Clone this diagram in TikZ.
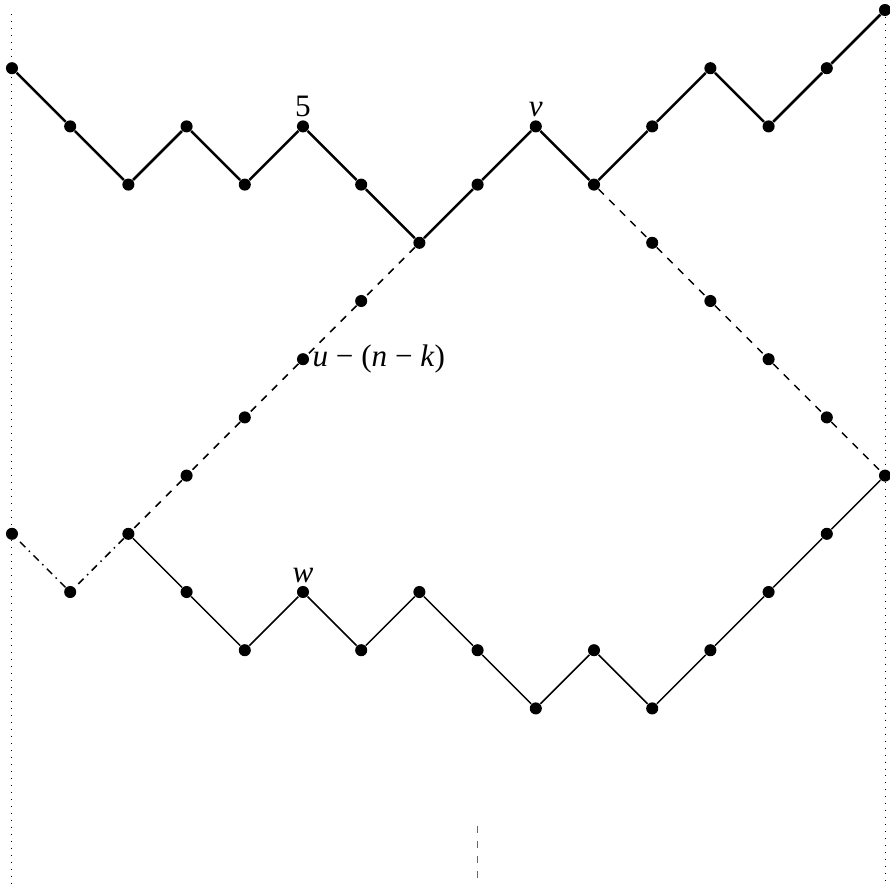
\documentclass[tikz,border=0pt]{standalone}
\usepackage{fontspec}
\setmainfont{Liberation Serif}
\usetikzlibrary{positioning}

\begin{document}
\begin{tikzpicture}[x=0.82cm, y=0.82cm,
  pt/.style={circle, fill=black, inner sep=0pt, minimum size=0.17cm},
  toppath/.style={line width=1pt},
  botpath/.style={line width=0.6pt},
  crossing/.style={semithick, dashed},
  guide/.style={line width=0.4pt, dash pattern=on 0.4pt off 2.4pt},
  lbl/.style={inner sep=1pt, font=\fontsize{12.5}{14}\selectfont},
]
  \useasboundingbox (-0.206,0.172) rectangle (15.086,-15.05);

  % upper walk
  \foreach \j [count=\i from 0] in {1,2,3,2,3,2,3,4,3,2,3,2,1,2,1,0}
    \node[pt] (t\i) at (\i,-\j) {};
  \foreach \i [remember=\i as \k (initially 0)] in {1,...,15}
    \draw[toppath] (t\k) -- (t\i);

  % lower walk
  \foreach \j [count=\i from 2] in {9,10,11,10,11,10,11,12,11,12,11,10,9,8}
    \node[pt] (b\i) at (\i,-\j) {};
  \foreach \i [remember=\i as \k (initially 2)] in {3,...,15}
    \draw[botpath] (b\k) -- (b\i);

  % reflected pieces
  \foreach \i in {3,...,6}
    \node[pt] (d\i) at (\i,{\i-11}) {};
  \foreach \i in {11,...,14}
    \node[pt] (r\i) at (\i,{7-\i}) {};
  \node[pt] (c1) at (1,-10) {};
  \node[pt] (c0) at (0,-9) {};

  \draw[crossing] (t7) -- (d6) -- (d5) -- (d4) -- (d3) -- (b2);
  \draw[crossing] (t10) -- (r11) -- (r12) -- (r13) -- (r14) -- (b15);
  \draw[semithick, dash dot] (b2) -- (c1) -- (c0);

  % labels
  \node[lbl, above=0pt of t5] (lfive) {5};
  \node[lbl, above=0pt of t9] (lv) {\textit{v}};
  \node[lbl, above=0pt of b5] (lw) {\textit{w}};
  \node[lbl, right=0pt of d5] (lu) {\textit{u} − (\textit{n} − \textit{k})};

  % vertical guides
  \coordinate (gltop) at (0,-0.07);
  \coordinate (glbot) at (0,-15.05);
  \coordinate (grbot) at (15,-15.05);
  \coordinate (gmtop) at (8,-14.02);
  \coordinate (gmbot) at (8,-15.05);
  \draw[guide] (gltop) -- (c0) -- (glbot);
  \draw[guide] (t15) -- (b15) -- (grbot);
  \draw[gray!80!black, dashed] (gmtop) -- (gmbot);
\end{tikzpicture}
\end{document}
